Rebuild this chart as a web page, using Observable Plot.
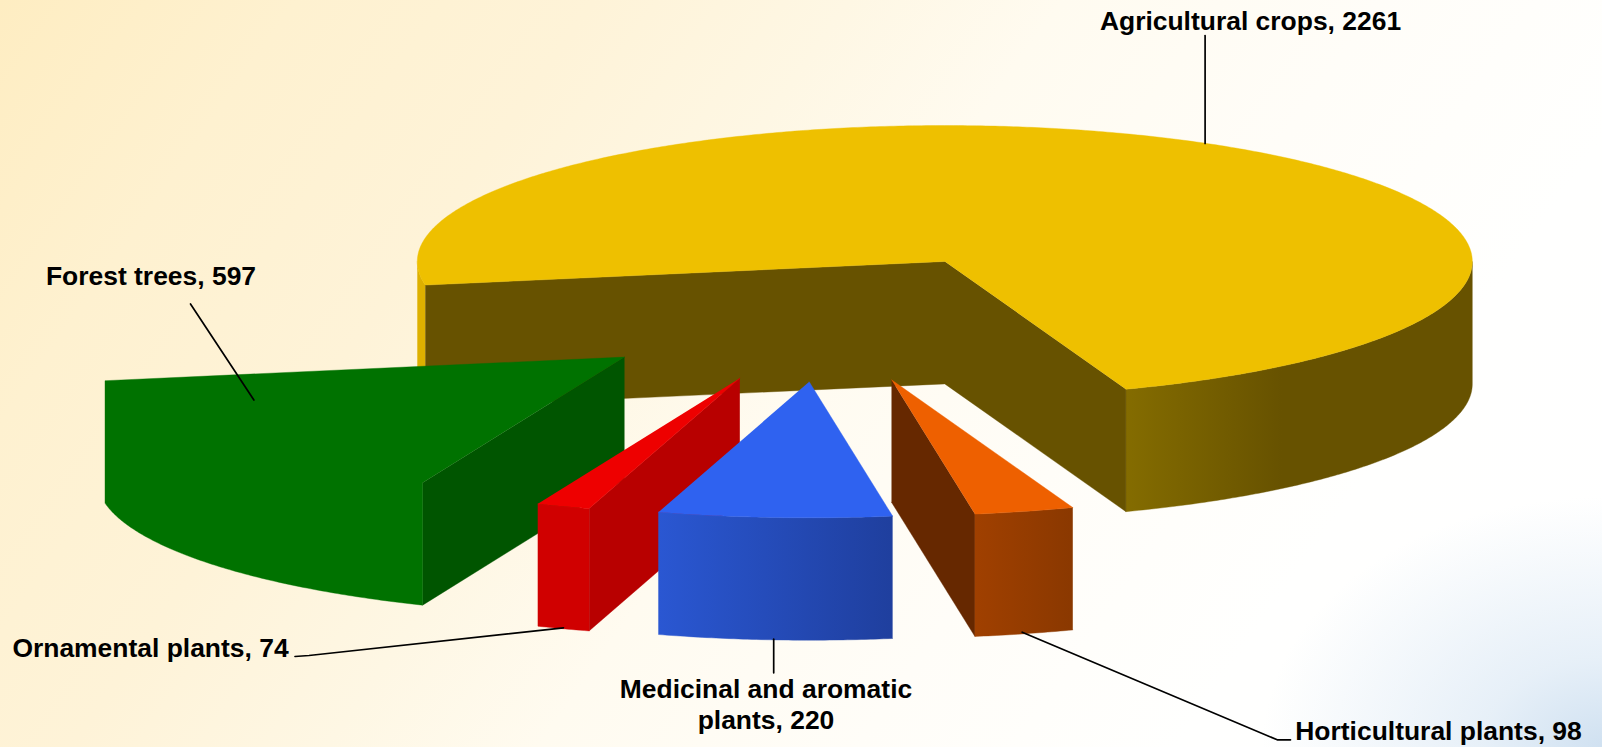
<!DOCTYPE html>
<html>
<head>
<meta charset="utf-8">
<style>
html,body{margin:0;padding:0;overflow:hidden;background:#fff}
svg{display:block}
</style>
<script src="https://cdn.jsdelivr.net/npm/d3@7"></script>
<script src="https://cdn.jsdelivr.net/npm/@observablehq/plot@0.6"></script>
</head>
<body>
<div id="chart"></div>
<script>
// ---- data (clockwise on screen, starting at the front-right edge) ----
const categories = ["Horticultural plants", "Medicinal and aromatic plants", "Ornamental plants", "Forest trees", "Agricultural crops"];
const values = [98, 220, 74, 597, 2261];
const labels = ["Horticultural plants, 98", "Medicinal and aromatic\nplants, 220", "Ornamental plants, 74", "Forest trees, 597", "Agricultural crops, 2261"];

// ---- 3-D pie styling ----
const W = 1602, H = 747;
const rx = 527.5, ry = 136, depth = 122.4, startDeg = 69.9;
// share of the turn each slice takes on screen relative to its value (the original 3-D renderer distorts them)
const sweepWarp = [1.0134, 1.0546, 0.7198, 0.8695, 1.0378];
// slice hub after explosion
const hubX = [891, 808.7, 739.3, 624, 944.3];
const hubY = [379.3, 381.3, 377.7, 356.6, 261];
const topColor = ["#ee6000", "#2f62f0", "#ee0000", "#007200", "#eec000"];
const frontFill = ["url(#gOrange)", "url(#gBlue)", "#d00000", "#007200", "url(#gGold)"];
const wallColor = ["#662800", "#1f3f9e", "#b80000", "#005500", "#675200"];

const total = d3.sum(values);
let cursor = startDeg;
const slices = values.map((v, i) => {
  const a0 = cursor, a1 = cursor + v / total * 360 * sweepWarp[i];
  cursor = a1;
  return {name: categories[i], a0, a1, cx: hubX[i], cy: hubY[i]};
});
const pt = (s, deg, dz = 0) => ({x: s.cx + rx * Math.cos(deg * Math.PI / 180), y: s.cy + ry * Math.sin(deg * Math.PI / 180) + dz});
const arc = (s, from, to, dz = 0) => {
  const n = Math.max(2, Math.ceil(Math.abs(to - from) * 2));
  return d3.range(n + 1).map(k => pt(s, from + (to - from) * k / n, dz));
};
const hub = (s, dz = 0) => ({x: s.cx, y: s.cy + dz});

const face = (points, fill) => Plot.line(points, {x: "x", y: "y", fill, stroke: fill, strokeWidth: 0.4, curve: "linear"});

const marks = [];
const [hort, med, orn, forest, agri] = slices;

// agricultural crops: outer wall (front right + sliver on the left), cut walls, top
marks.push(face([...arc(agri, 180, agri.a0), ...arc(agri, agri.a0, 180, depth)], "#ddb000"));
marks.push(face([...arc(agri, agri.a1 - 360, 0), ...arc(agri, 0, agri.a1 - 360, depth)], frontFill[4]));
marks.push(face([pt(agri, agri.a0), hub(agri), pt(agri, agri.a1), pt(agri, agri.a1, depth), hub(agri, depth), pt(agri, agri.a0, depth)], wallColor[4]));
marks.push(face([hub(agri), ...arc(agri, agri.a0, agri.a1)], topColor[4]));

// forest trees: top and outer wall share one colour, so they are one silhouette
marks.push(face([hub(forest), pt(forest, forest.a0), pt(forest, forest.a0, depth), hub(forest, depth)], wallColor[3]));
marks.push(face([hub(forest), pt(forest, forest.a1), ...arc(forest, forest.a1, forest.a0, depth), pt(forest, forest.a0)], topColor[3]));

// ornamental plants
marks.push(face([hub(orn), pt(orn, orn.a0), pt(orn, orn.a0, depth), hub(orn, depth)], wallColor[2]));
marks.push(face([...arc(orn, orn.a0, orn.a1), ...arc(orn, orn.a1, orn.a0, depth)], frontFill[2]));
marks.push(face([hub(orn), ...arc(orn, orn.a0, orn.a1)], topColor[2]));

// medicinal and aromatic plants
marks.push(face([...arc(med, med.a0, med.a1), ...arc(med, med.a1, med.a0, depth)], frontFill[1]));
marks.push(face([hub(med), ...arc(med, med.a0, med.a1)], topColor[1]));

// horticultural plants
marks.push(face([hub(hort), pt(hort, hort.a1), pt(hort, hort.a1, depth), hub(hort, depth)], wallColor[0]));
marks.push(face([...arc(hort, hort.a0, hort.a1), ...arc(hort, hort.a1, hort.a0, depth)], frontFill[0]));
marks.push(face([hub(hort), ...arc(hort, hort.a0, hort.a1)], topColor[0]));

// ---- leaders and labels ----
const leaderPaths = [
  [[1021.7, 631.7], [1276.7, 739.3], [1290, 739.3]],
  [[773.2, 638.7], [773.2, 672.3]],
  [[563, 627.3], [308.5, 655], [294.5, 656]],
  [[190, 303.5], [253.4, 399.5]],
  [[1204.6, 35], [1204.6, 143]]
];
const labelX = [1438, 765.5, 150, 150.5, 1250];
const labelY = [729.6, 703, 646, 274, 19.5];
leaderPaths.forEach(p => marks.push(Plot.line(p, {x: d => d[0], y: d => d[1], stroke: "#000", strokeWidth: 1.7, curve: "linear"})));
marks.push(Plot.text(labels, {
  x: (d, i) => labelX[i], y: (d, i) => labelY[i], text: d => d,
  fontFamily: "Liberation Sans", fontWeight: "bold", fontSize: 26.45, fill: "#000",
  lineHeight: 1.19, textAnchor: "middle", frameAnchor: "middle"
}));

const plot = Plot.plot({
  width: W, height: H, margin: 0,
  x: {domain: [0, W], range: [0, W], axis: null},
  y: {domain: [0, H], range: [0, H], axis: null},
  style: {
    background: "radial-gradient(ellipse 340px 250px at 100% 100%, #d0e1f1 0%, rgba(220,233,245,.7) 35%, rgba(255,255,255,0) 100%), linear-gradient(125deg, #feedc2 0%, #fef1d0 14%, #fef3d8 28%, #fef7e4 40%, #fffbf0 50%, #fffdf8 65%, #fffffe 80%, #ffffff 100%)"
  },
  marks
});

// gradients used by the curved outer walls
const gradients = {
  gGold: [[0, "#846c00"], [0.45, "#675200"], [1, "#675200"]],
  gBlue: [[0, "#2a57d2"], [1, "#1f3f9e"]],
  gOrange: [[0, "#a04000"], [1, "#8a3800"]]
};
const defs = d3.select(plot).insert("defs", ":first-child");
Object.entries(gradients).forEach(([id, stops]) => {
  const g = defs.append("linearGradient").attr("id", id).attr("x1", 0).attr("x2", 1).attr("y1", 0).attr("y2", 0);
  stops.forEach(([o, c]) => g.append("stop").attr("offset", o).attr("stop-color", c));
});
document.getElementById("chart").append(plot);
</script>
</body>
</html>
